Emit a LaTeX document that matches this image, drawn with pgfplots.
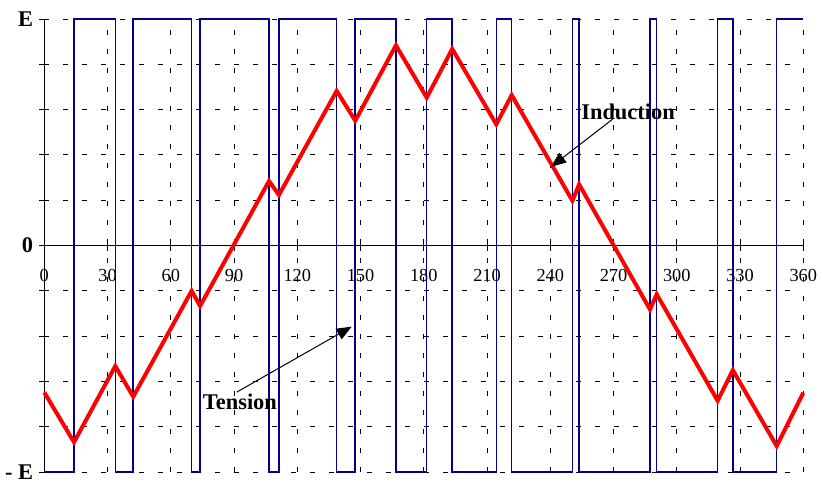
\documentclass[border=0pt]{standalone}
\usepackage{fontspec}
\setmainfont{Liberation Serif}
\usepackage{pgfplots}
\pgfplotsset{compat=1.18}
\usetikzlibrary{arrows.meta}
\definecolor{tensionblue}{RGB}{0,0,140}
\begin{document}
\begin{tikzpicture}
\begin{axis}[
  x=1.054bp, y=113.25bp,
  xmin=0, xmax=360, ymin=-1, ymax=1,
  clip=false,
  axis lines=middle,
  axis line style={-, black, line width=0.6bp},
  xtick={0,30,...,360},
  ytick={-1,-0.8,-0.6,-0.4,-0.2,0,0.2,0.4,0.6,0.8,1},
  yticklabels={\bfseries - E,,,,,\bfseries 0,,,,,\bfseries E},
  hide obscured x ticks=false, hide obscured y ticks=false,
  grid=major,
  major grid style={black, line width=0.5bp, dash pattern=on 2.5bp off 7bp},
  tick style={black, line width=0.5bp},
  tick align=center,
  major tick length=5bp,
  /pgf/number format/assume math mode=true,
  xticklabel style={font=\fontsize{9.2}{11}\selectfont, inner sep=0pt, yshift=-9.3bp},
  yticklabel style={font=\fontsize{11.25}{13}\selectfont, inner sep=0pt, xshift=-2.9bp},
]
\addplot[const plot, tensionblue, line width=0.75bp] coordinates {
(0,-1) (14.1,1) (33.7,-1) (42.2,1) (69.9,-1) (73.9,1) (106.6,-1) (111.3,1)
(138.7,-1) (147.5,1) (166.8,-1) (181.4,1) (193.5,-1) (214.4,1) (221.7,-1)
(250.5,1) (253.7,-1) (287.3,1) (290.5,-1) (319.4,1) (326.6,-1) (347.4,1) (360,1)
};
\addplot[red, line width=2bp] coordinates {
(0,-0.648) (14.1,-0.868) (33.7,-0.532) (42.2,-0.667) (69.9,-0.200) (73.9,-0.267)
(106.6,0.285) (111.3,0.223) (138.7,0.683) (147.5,0.551) (166.8,0.884) (181.4,0.653)
(193.5,0.868) (214.4,0.535) (221.7,0.664) (250.5,0.198) (253.7,0.270) (287.3,-0.282)
(290.5,-0.215) (319.4,-0.685) (326.6,-0.550) (347.4,-0.885) (360,-0.650)
};
\node[font=\fontsize{11.25}{13}\selectfont\bfseries] at (axis cs:276.9,0.589) {Induction};
\draw[-{Triangle[length=7.5bp,width=6bp]}, line width=0.5bp] (axis cs:269.6,0.558) -- (axis cs:240.4,0.348);
\node[font=\fontsize{11.25}{13}\selectfont\bfseries] at (axis cs:92.8,-0.691) {Tension};
\draw[-{Triangle[length=7.5bp,width=6bp]}, line width=0.5bp] (axis cs:91.3,-0.647) -- (axis cs:145.8,-0.358);
\path (axis cs:-21,-1.044) rectangle (axis cs:368.9,1.084);
\end{axis}
\end{tikzpicture}
\end{document}
